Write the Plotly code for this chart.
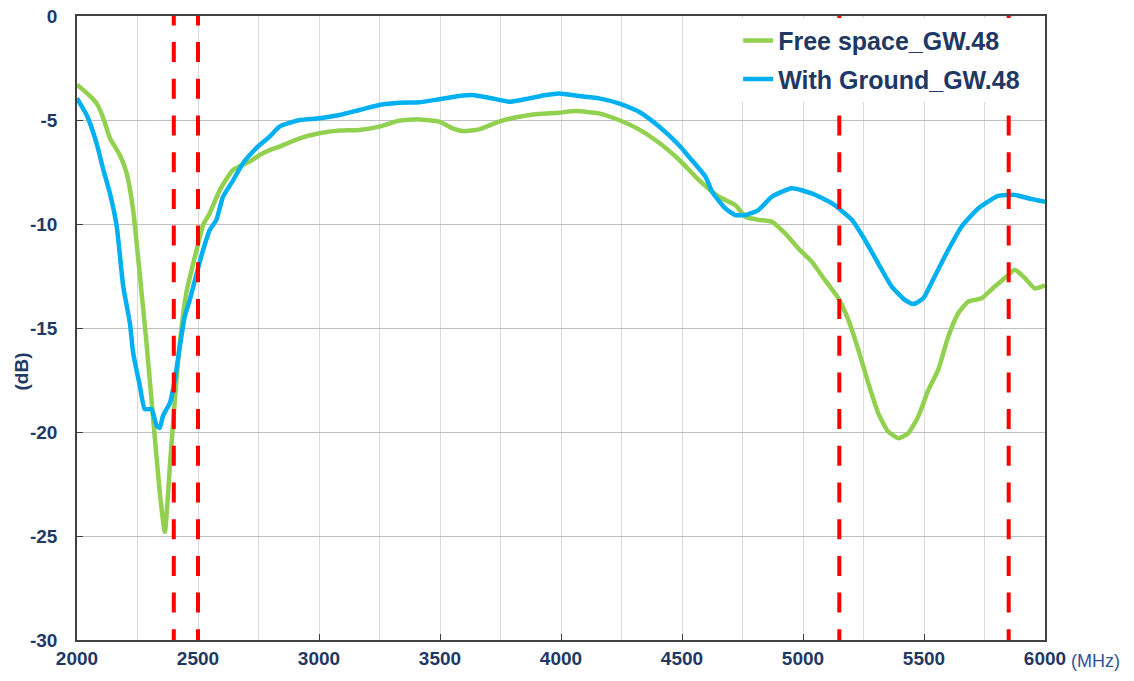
import plotly.graph_objects as go

# ---- data ----
free_freq = [2000, 2054, 2081, 2109, 2136, 2177, 2205, 2232, 2260, 2287, 2315, 2342, 2363, 2384,
             2404, 2425, 2452, 2494, 2521, 2548, 2590, 2645, 2713, 2755, 2796, 2837, 2920, 3002,
             3085, 3167, 3249, 3332, 3414, 3497, 3552, 3593, 3662, 3744, 3827, 3909, 3992, 4060,
             4157, 4239, 4322, 4404, 4487, 4569, 4652, 4720, 4762, 4816, 4871, 4926, 4981, 5036,
             5091, 5146, 5187, 5229, 5270, 5311, 5352, 5394, 5435, 5476, 5518, 5559, 5600, 5641,
             5683, 5738, 5793, 5834, 5875, 5917, 5958, 6000]
free_db = [-3.3, -3.85, -4.2, -4.92, -5.88, -6.68, -7.55, -9.33, -12.5, -15.7, -19.4, -22.9, -24.8, -21.6,
           -18.5, -15.7, -13.3, -11.25, -10.05, -9.49, -8.37, -7.4, -7.0, -6.68, -6.45, -6.28, -5.88, -5.64,
           -5.51, -5.48, -5.32, -5.03, -4.97, -5.08, -5.4, -5.53, -5.45, -5.08, -4.84, -4.71, -4.65, -4.57,
           -4.68, -5.0, -5.45, -6.08, -6.9, -7.88, -8.69, -9.09, -9.65, -9.8, -9.89, -10.45, -11.17, -11.81,
           -12.7, -13.57, -14.6, -16.06, -17.66, -19.1, -19.98, -20.3, -20.06, -19.26, -17.98, -17.0, -15.42, -14.3,
           -13.73, -13.57, -13.0, -12.6, -12.2, -12.6, -13.1, -12.95]

gnd_freq = [2000, 2040, 2081, 2109, 2136, 2164, 2191, 2219, 2232, 2260, 2280, 2308, 2329, 2342, 2356,
            2384, 2404, 2425, 2445, 2466, 2494, 2521, 2548, 2576, 2603, 2645, 2686, 2741, 2796, 2837,
            2920, 3002, 3085, 3167, 3249, 3332, 3414, 3497, 3579, 3634, 3703, 3786, 3868, 3937, 3992,
            4074, 4157, 4239, 4322, 4404, 4487, 4528, 4597, 4624, 4679, 4720, 4762, 4816, 4871, 4954,
            5036, 5119, 5202, 5256, 5311, 5366, 5421, 5456, 5497, 5545, 5600, 5655, 5724, 5806, 5875,
            5944, 6000]
gnd_db = [-3.96, -4.76, -6.12, -7.4, -8.52, -10.1, -13.0, -14.8, -16.2, -17.8, -18.9, -18.9, -19.7, -19.8, -19.2,
          -18.6, -17.5, -15.9, -14.46, -13.65, -12.4, -11.25, -10.3, -9.8, -8.7, -7.9, -7.08, -6.35, -5.8, -5.32,
          -5.0, -4.92, -4.76, -4.52, -4.28, -4.17, -4.15, -4.0, -3.85, -3.8, -3.93, -4.12, -3.96, -3.8, -3.72,
          -3.85, -3.96, -4.2, -4.6, -5.3, -6.2, -6.76, -7.72, -8.44, -9.25, -9.57, -9.57, -9.33, -8.69, -8.28,
          -8.53, -9.0, -9.8, -10.77, -11.9, -13.0, -13.65, -13.85, -13.57, -12.5, -11.25, -10.13, -9.25, -8.65, -8.6,
          -8.8, -8.93]

band_edges = [2400, 2500, 5150, 5850]
x_ticks = [2000, 2500, 3000, 3500, 4000, 4500, 5000, 5500, 6000]
y_ticks = [0, -5, -10, -15, -20, -25, -30]
Y_MIN, Y_MAX = -30, 0

series_names = ["Free space_GW.48", "With Ground_GW.48"]
GREEN = "#92D050"
BLUE = "#00B0F0"
NAVY = "#1F3864"

fig = go.Figure()
fig.add_trace(go.Scatter(x=free_freq, y=free_db, mode="lines", name=series_names[0], legendgroup="a",
                         line=dict(color=GREEN, width=4.5, shape="spline", smoothing=0.5)))
fig.add_trace(go.Scatter(x=gnd_freq, y=gnd_db, mode="lines", name=series_names[1], legendgroup="b",
                         line=dict(color=BLUE, width=4.5, shape="spline", smoothing=0.5)))

# dashed band-edge markers; start slightly above the top so the dash phase matches
for f in band_edges:
    fig.add_shape(type="line", xref="x", yref="y", x0=f, x1=f, y0=Y_MAX + 0.51, y1=Y_MIN,
                  line=dict(color="#FF0000", width=4, dash="20px,16.7px"), layer="above")

fig.update_layout(
    width=1134, height=681,
    margin=dict(l=77, r=89, t=16, b=41, autoexpand=False),
    paper_bgcolor="white", plot_bgcolor="white",
    font=dict(family="Liberation Sans, Arial, sans-serif", color=NAVY),
    showlegend=True,
    legend=dict(x=0.683, y=0.997, xanchor="left", yanchor="top",
                bgcolor="white", borderwidth=0,
                font=dict(size=25, color=NAVY, family="Liberation Sans, Arial, sans-serif", weight="bold"),
                itemwidth=30, tracegroupgap=3),
    xaxis=dict(range=[2000, 6000], tickvals=x_ticks, ticktext=[str(v) for v in x_ticks],
               showgrid=True, gridcolor="#D9D9D9", gridwidth=1,
               minor=dict(dtick=250, showgrid=True, gridcolor="#D9D9D9", gridwidth=1, ticks=""),
               ticks="inside", ticklen=6, tickcolor="#404040",
               showline=True, linecolor="#404040", linewidth=1.5, mirror=True,
               tickfont=dict(size=19, color=NAVY, weight="bold"), zeroline=False, automargin=False,
               ticklabeloverflow="allow"),
    yaxis=dict(range=[Y_MIN, Y_MAX], tickvals=y_ticks, ticktext=[str(v) for v in y_ticks],
               showgrid=True, gridcolor="#BFBFBF", gridwidth=1,
               ticks="inside", ticklen=6, tickcolor="#404040",
               showline=True, linecolor="#404040", linewidth=1.5, mirror=True,
               tickfont=dict(size=19, color=NAVY, weight="bold"), zeroline=False,
               ticklabelstandoff=14, automargin=False, ticklabeloverflow="allow"),
)

fig.add_annotation(text="(dB)", xref="paper", yref="paper", x=-0.057, y=0.43,
                   xanchor="center", yanchor="middle", textangle=-90, showarrow=False,
                   font=dict(size=19, color=NAVY, weight="bold"))
fig.add_annotation(text="(MHz)", xref="paper", yref="paper", x=1.025, y=-0.015,
                   xanchor="left", yanchor="top", showarrow=False,
                   font=dict(size=18, color="#2F5597"))

# remove the browser's default body margin so the figure sits at the page origin
fig.write_html("out.html", config={"displayModeBar": False},
               post_script="document.body.style.margin='0px';")
